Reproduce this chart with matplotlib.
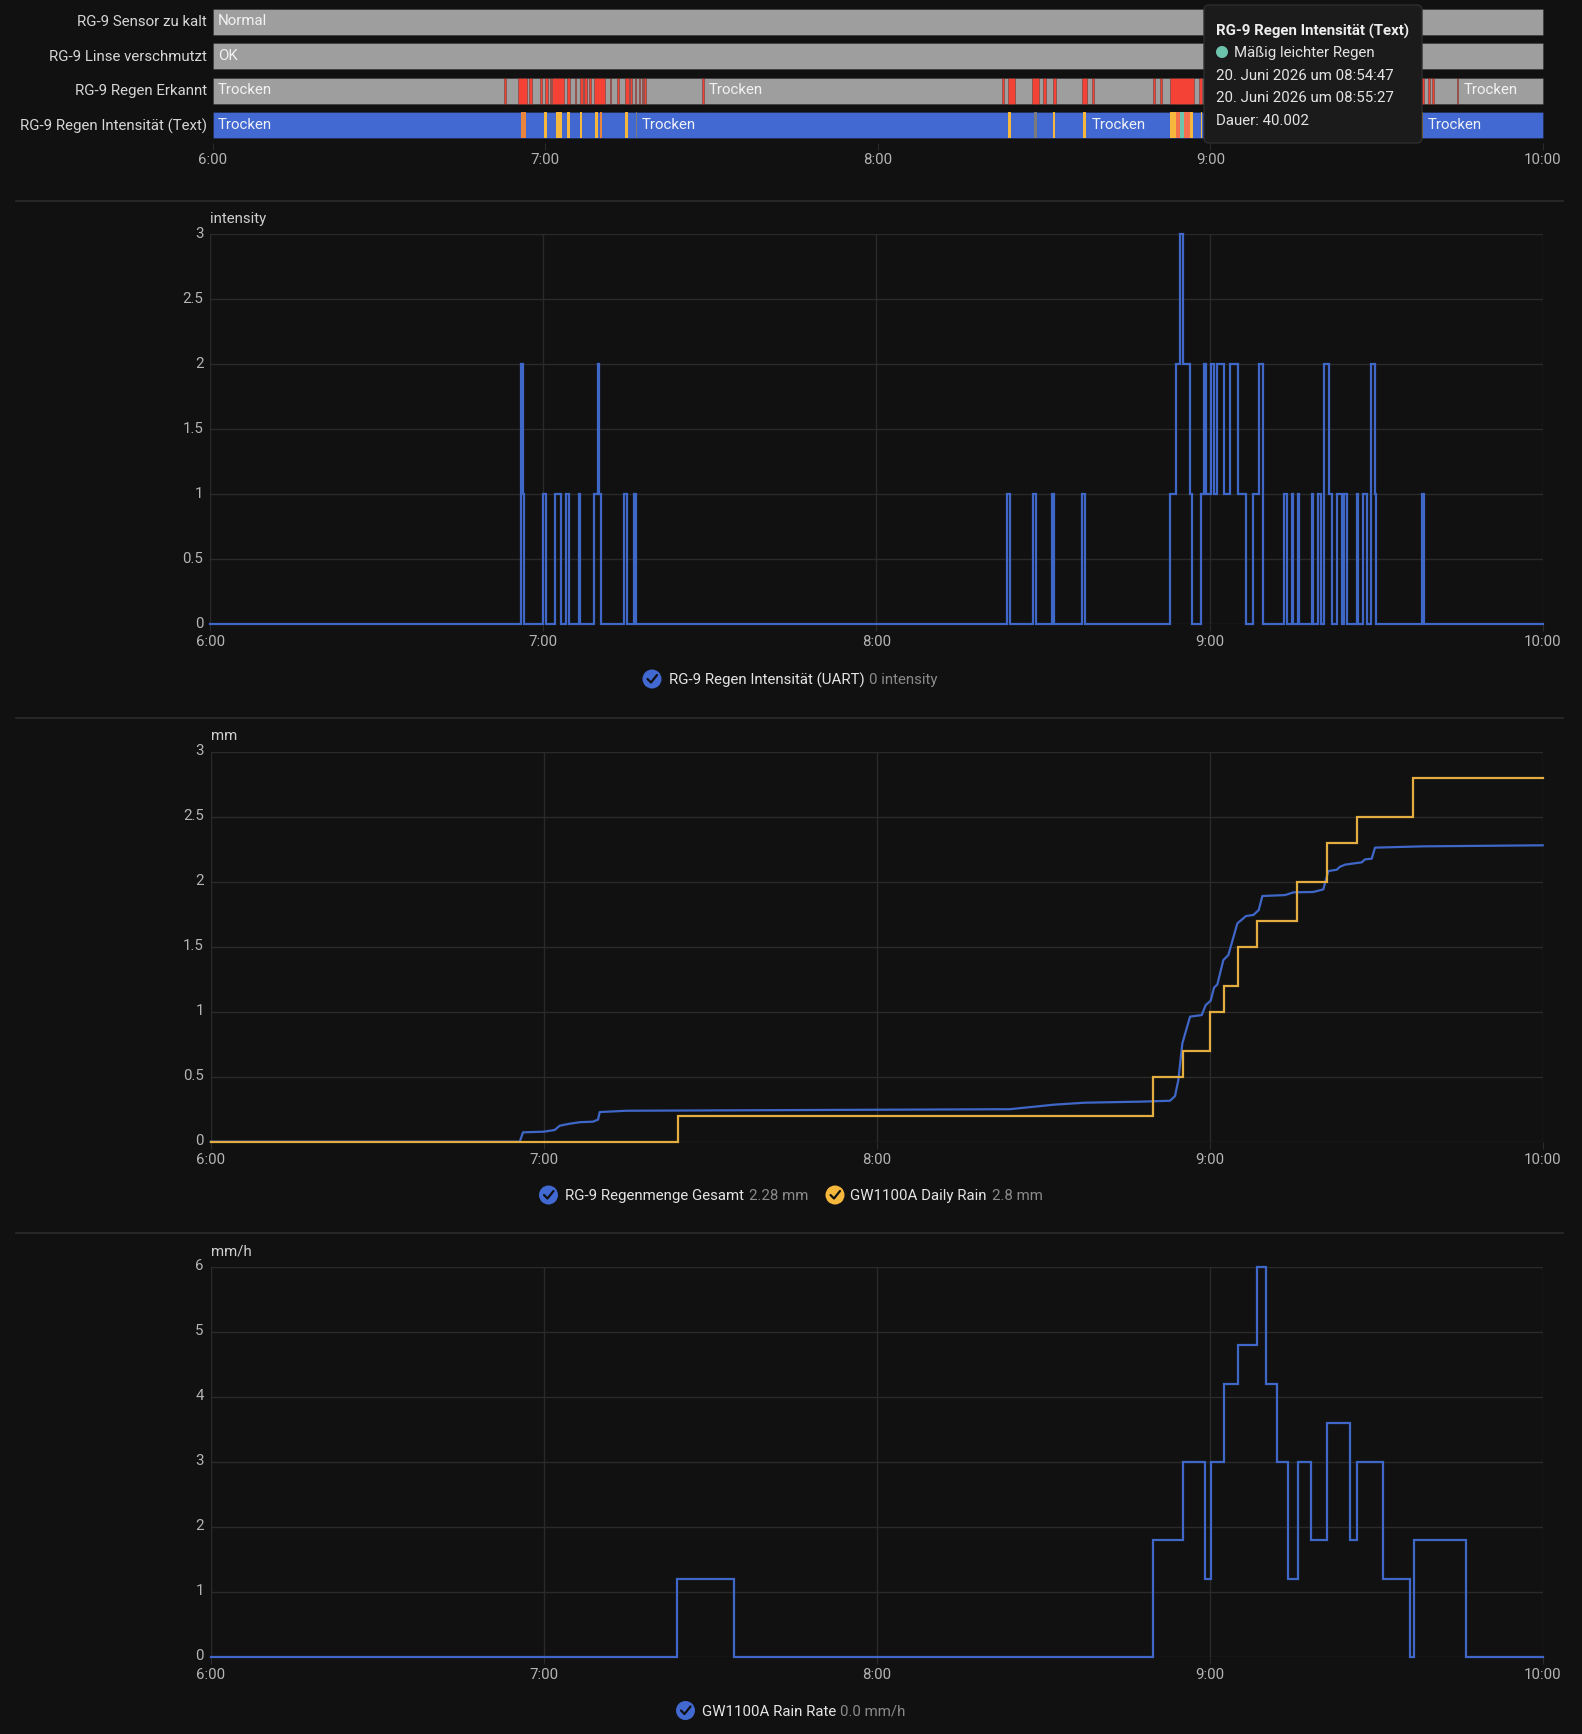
import matplotlib
matplotlib.use("Agg")
import matplotlib.pyplot as plt
from matplotlib.patches import FancyBboxPatch, Circle
from matplotlib.transforms import ScaledTranslation

plt.rcParams['font.family'] = ['Roboto', 'DejaVu Sans']

W, H = 1582, 1734
BG = '#111111'
GRID = '#2a2a2a'
TICK = '#b4b4b4'
BLUE = '#3f67c8'
YELLOW = '#e3ad3f'
GRAY = '#9e9e9e'
RED = '#f44336'
AMBER = '#f5b83d'
CORAL = '#f4704f'
ORANGE = '#e8843c'
TEAL = '#6cc4ac'
DIM = '#7b7b7b'
BAR_BLUE = '#4169d1'

# ---- data: minutes after 6:00 ----
x_ticks = [0, 60, 120, 180, 240]
x_labels = ['6:00', '7:00', '8:00', '9:00', '10:00']
row_names = ['RG-9 Sensor zu kalt', 'RG-9 Linse verschmutzt', 'RG-9 Regen Erkannt', 'RG-9 Regen Intensität (Text)']

erkannt_wet = [(52.55, 52.91), (55.0, 56.76), (57.0, 57.54), (59.1, 59.46), (59.88, 60.48), (60.78, 61.08),
               (61.2, 63.36), (63.96, 64.44), (65.28, 65.52), (66.18, 66.78), (67.02, 67.5), (67.86, 68.16),
               (68.88, 70.86), (71.76, 71.94), (72.9, 73.26), (74.34, 75.06), (75.36, 75.6), (76.2, 76.38),
               (76.85, 77.1), (77.5, 77.7), (77.9, 78.1), (88.2, 88.55),
               (142.36, 142.72), (143.5, 144.7), (147.83, 149.03), (149.8, 150.35), (151.6, 152.2),
               (156.84, 157.74), (158.58, 158.94), (169.63, 169.93), (170.9, 171.26), (172.7, 176.96),
               (177.92, 178.4), (217.9, 218.5), (219.26, 219.62), (219.98, 220.4), (224.4, 224.72)]
text_amber = [(59.82, 60.3), (61.98, 63.06), (63.96, 64.44), (66.3, 66.6), (68.95, 69.49), (74.45, 74.93),
              (143.5, 143.98), (151.6, 151.97), (157.02, 157.56), (172.7, 173.84), (176.36, 176.78),
              (178.3, 178.5), (218.1, 218.4)]
text_coral = [(173.84, 174.5), (175.16, 176.36)]
text_orange = [(55.67, 56.45), (69.85, 70.27)]
text_teal = [(174.5, 175.16)]
text_dim = [(76.28, 76.52), (148.13, 148.67)]

row_labels = [('Normal', 0, 0.95), ('OK', 1, 0.95),
              ('Trocken', 2, 0.95), ('Trocken', 2, 89.4), ('Trocken', 2, 225.7),
              ('Trocken', 3, 0.95), ('Trocken', 3, 77.4), ('Trocken', 3, 158.5), ('Trocken', 3, 219.2)]

intensity_t = [0, 55.92, 56.04, 56.3, 56.5, 59.88, 60.54, 62.04, 63.18, 64.08, 64.68, 66.43, 66.67, 69.07, 69.79,
               70.09, 70.45, 74.6, 75.14, 76.4, 76.64, 143.5, 144.1, 148.12, 148.78, 151.6, 151.9, 157.07, 157.61,
               172.79, 173.99, 174.59, 175.2, 176.4, 176.88, 178.44, 179.04, 179.28, 180.24, 180.84, 181.38,
               182.52, 183.6, 185.1, 186.6, 187.8, 188.89, 189.6, 193.39, 193.93, 194.89, 195.07, 195.92, 196.1,
               198.38, 198.62, 199.52, 200.0, 200.54, 201.44, 201.98, 202.94, 203.78, 204.26, 204.74, 206.55,
               206.79, 207.57, 208.29, 209.07, 209.79, 210.03, 218.26, 218.56, 240]
intensity_v = [0, 1, 2, 1, 0, 1, 0, 1, 0, 1, 0, 1, 0, 1, 2,
               1, 0, 1, 0, 1, 0, 1, 0, 1, 0, 1, 0, 1, 0,
               1, 2, 3, 2, 1, 0, 1, 2, 1, 2, 1, 2,
               1, 2, 1, 0, 1, 2, 0, 1, 0, 1, 0, 1, 0,
               1, 0, 1, 0, 2, 1, 0, 1, 0, 1, 0, 1,
               0, 1, 0, 2, 1, 0, 1, 0, 0]

total_t = [0, 55.68, 56.28, 60, 61.98, 62.88, 64.38, 66.49, 68.89, 69.79, 70.09, 74.9, 144, 152, 157.5, 167.45,
           172.85, 173.75, 174.35, 175.07, 176.46, 178.56, 179.28, 180.18, 180.78, 181.38, 182.46, 183.36,
           184.98, 186.55, 187.87, 188.83, 189.49, 193.57, 195.07, 198.68, 200.48, 200.84, 201.38, 202.88,
           203.48, 204.38, 207.39, 207.99, 209.19, 209.79, 218.5, 240]
total_v = [0, 0, 0.072, 0.077, 0.09, 0.123, 0.136, 0.15, 0.154, 0.17, 0.228, 0.238, 0.25, 0.285, 0.3, 0.308,
           0.315, 0.351, 0.474, 0.756, 0.962, 0.974, 1.051, 1.085, 1.185, 1.21, 1.397, 1.436,
           1.679, 1.736, 1.744, 1.782, 1.89, 1.897, 1.918, 1.921, 1.941, 2.0, 2.082, 2.092,
           2.115, 2.131, 2.149, 2.172, 2.177, 2.262, 2.272, 2.28]

daily_t = [0, 84.2, 169.85, 175.14, 180.12, 182.58, 185.17, 188.47, 195.74, 201.08, 206.49, 216.7, 240]
daily_v = [0, 0.2, 0.5, 0.7, 1.0, 1.2, 1.5, 1.7, 2.0, 2.3, 2.5, 2.8, 2.8]

rate_t = [0, 84.1, 94.3, 169.79, 175.2, 179.22, 180.18, 182.64, 185.17, 188.53, 190.21, 192.13, 194.17, 195.86,
          198.2, 201.14, 205.2, 206.49, 211.23, 216.16, 216.82, 226.13, 240]
rate_v = [0, 1.2, 0, 1.8, 3.0, 1.2, 3.0, 4.2, 4.8, 6.0, 4.2, 3.0, 1.2, 3.0,
          1.8, 3.6, 1.8, 3.0, 1.2, 0, 1.8, 0, 0]

y_ticks_a = [0, 0.5, 1, 1.5, 2, 2.5, 3]
y_labels_a = ['0', '0.5', '1', '1.5', '2', '2.5', '3']
y_ticks_b = [0, 1, 2, 3, 4, 5, 6]
y_labels_b = ['0', '1', '2', '3', '4', '5', '6']

tooltip_title = 'RG-9 Regen Intensität (Text)'
tooltip_state = 'Mäßig leichter Regen'
tooltip_lines = ['20. Juni 2026 um 08:54:47', '20. Juni 2026 um 08:55:27', 'Dauer: 40.002']

FS = 10.8  # 15 px
fig = plt.figure(figsize=(W / 100, H / 100), dpi=100, facecolor=BG)


def px_axes(x0, y0, x1, y1, **kw):
    return fig.add_axes([x0 / W, 1 - y1 / H, (x1 - x0) / W, (y1 - y0) / H], facecolor=BG, **kw)


def segs(pairs):
    return [(a, b - a) for a, b in pairs]


def lift_labels(labels, dy_px):
    off = ScaledTranslation(0, dy_px / 100, fig.dpi_scale_trans)
    for lab in labels:
        lab.set_transform(lab.get_transform() + off)


# ---- timeline ----
tl = px_axes(212.7, 4.5, 1543, 142.5)
tl.set_xlim(0, 240)
tl.set_ylim(3.5, -0.5)
edge = dict(edgecolor=(0.07, 0.07, 0.07, 0.3), linewidth=0.7)
hb = 0.74
for r in range(3):
    tl.broken_barh([(0, 240)], (r - hb / 2, hb), facecolor=GRAY, **edge)
tl.broken_barh(segs(erkannt_wet), (2 - hb / 2, hb), facecolor=RED, **edge)
tl.broken_barh([(0, 240)], (3 - hb / 2, hb), facecolor=BAR_BLUE, **edge)
for pairs, col in [(text_amber, AMBER), (text_coral, CORAL), (text_orange, ORANGE), (text_teal, TEAL), (text_dim, DIM)]:
    tl.broken_barh(segs(pairs), (3 - hb / 2, hb), facecolor=col, edgecolor='none')
for s, r, t in row_labels:
    tl.text(t, r - 0.01, s, color='#eef0f6' if r == 3 else '#f2f2f2', fontsize=FS, va='center', ha='left')
tl.set_yticks(range(4), row_names)
tl.set_xticks(x_ticks, x_labels)
tl.tick_params(axis='y', length=0, pad=4, labelsize=FS, labelcolor='#d6d6d6')
tl.tick_params(axis='x', length=5, width=0.8, color=GRID, pad=2.5, labelsize=FS, labelcolor=TICK)
lift_labels(tl.get_yticklabels(), 1)
for s in tl.spines.values():
    s.set_visible(False)


# ---- line panels ----
def panel(y_top, y_bot, x0, ylim, yt, yl):
    ax = px_axes(x0, y_top, 1542.7, y_bot)
    ax.set_xlim(0, 240)
    ax.set_ylim(*ylim)
    ax.set_xticks(x_ticks, x_labels)
    ax.set_yticks(yt, yl)
    ax.grid(True, color=GRID, linewidth=1.0)
    ax.set_axisbelow(True)
    ax.tick_params(axis='x', length=5, width=0.8, color=GRID, pad=3, labelsize=FS, labelcolor=TICK)
    ax.tick_params(axis='y', length=0, pad=5, labelsize=FS, labelcolor=TICK)
    lift_labels(ax.get_yticklabels(), 2)
    for s in ax.spines.values():
        s.set_visible(False)
    return ax


LW = 1.6
a1 = panel(234.3, 624.3, 210.2, (0, 3), y_ticks_a, y_labels_a)
a1.step(intensity_t, intensity_v, where='post', color=BLUE, lw=LW, clip_on=False, solid_joinstyle='miter')

a2 = panel(751.7, 1141.7, 210.7, (0, 3), y_ticks_a, y_labels_a)
a2.plot(total_t, total_v, color=BLUE, lw=LW, clip_on=False, solid_joinstyle='round')
a2.step(daily_t, daily_v, where='post', color=YELLOW, lw=LW, clip_on=False, solid_joinstyle='miter')

a3 = panel(1266.7, 1656.7, 210.7, (0, 6), y_ticks_b, y_labels_b)
a3.step(rate_t, rate_v, where='post', color=BLUE, lw=LW, clip_on=False, solid_joinstyle='miter')

# ---- overlay in pixel coordinates ----
ov = fig.add_axes([0, 0, 1, 1], facecolor='none')
ov.set_xlim(0, W)
ov.set_ylim(H, 0)
ov.axis('off')

for y in [201, 717.5, 1233]:
    ov.plot([16, 1563], [y, y], color='#2e2e2e', lw=1.1)

for s, x, y in [('intensity', 210, 219), ('mm', 211, 735.5), ('mm/h', 211, 1251)]:
    ov.text(x, y, s, color='#cfcfcf', fontsize=FS, va='center', ha='left')


def legend(ix, y, col, name, tx, val, vx):
    ov.add_patch(Circle((ix, y), 9.5, facecolor=col, edgecolor='none'))
    ov.plot([ix - 4.5, ix - 1, ix + 5], [y, y + 3.5, y - 4], color='#111111', lw=1.6, solid_capstyle='round')
    ov.text(tx, y + 1, name, color='#e4e4e4', fontsize=FS, va='center', ha='left')
    ov.text(vx, y + 1, val, color='#8a8a8a', fontsize=FS, va='center', ha='left')


legend(652, 679, BAR_BLUE, 'RG-9 Regen Intensität (UART)', 669, '0 intensity', 869)
legend(548.5, 1195, BAR_BLUE, 'RG-9 Regenmenge Gesamt', 565, '2.28 mm', 749)
legend(835, 1195, AMBER, 'GW1100A Daily Rain', 850.5, '2.8 mm', 992)
legend(685.5, 1710.5, BAR_BLUE, 'GW1100A Rain Rate', 701.5, '0.0 mm/h', 840)

box = FancyBboxPatch((1204, 5), 218, 138, boxstyle='round,pad=0,rounding_size=5',
                     facecolor='#1b1b1b', edgecolor='#2d2d2d', lw=1.0, zorder=5)
ov.add_patch(box)
ov.text(1216, 31, tooltip_title, color='#ececec', fontsize=FS, fontweight='bold', va='center', ha='left', zorder=6)
ov.add_patch(Circle((1222, 52), 6, facecolor=TEAL, edgecolor='none', zorder=6))
ov.text(1233.5, 53, tooltip_state, color='#e4e4e4', fontsize=FS, va='center', ha='left', zorder=6)
for line, y in zip(tooltip_lines, [76, 98, 121]):
    ov.text(1216, y, line, color='#e4e4e4', fontsize=FS, va='center', ha='left', zorder=6)

fig.savefig('out.png', dpi=100, facecolor=BG)
